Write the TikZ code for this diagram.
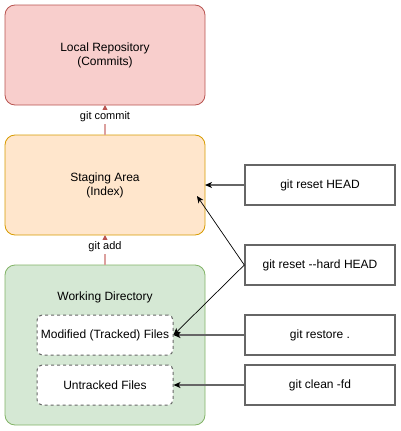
\documentclass[tikz,border=0pt]{standalone}
\usepackage{fontspec}
\setmainfont{Liberation Sans}
\usetikzlibrary{arrows.meta}
\definecolor{repofill}{HTML}{F8CECC}
\definecolor{repodraw}{HTML}{B85450}
\definecolor{stagefill}{HTML}{FFE6CC}
\definecolor{stagedraw}{HTML}{D79B00}
\definecolor{workfill}{HTML}{D5E8D4}
\definecolor{workdraw}{HTML}{82B366}
\definecolor{cmdgray}{HTML}{666666}
\definecolor{upline}{HTML}{DCA09E}
\tikzset{
  txt/.style={font=\fontsize{12}{14}\selectfont, align=center},
  area/.style={rounded corners=10pt, line width=0.8pt},
  filebox/.style={draw=cmdgray, dashed, line width=1pt, fill=white, rounded corners=5pt, minimum width=136pt, minimum height=40pt, txt},
  cmdbox/.style={draw=cmdgray, line width=1.4pt, fill=white, minimum width=150pt, minimum height=40pt, txt},
  uparrow/.style={draw=upline, line width=1.2pt, -{Triangle[length=7pt,width=7pt,fill=repodraw,color=repodraw]}},
  uplabel/.style={fill=white, inner sep=2pt, font=\fontsize{11}{13}\selectfont},
  grayarrow/.style={draw=cmdgray, line width=1.4pt, -{Stealth[length=7pt,width=6pt,inset=2pt,color=black]}},
  thinarrow/.style={draw=black, line width=0.7pt, -{Stealth[length=7pt,width=6pt,inset=2pt]}}
}
\begin{document}
\begin{tikzpicture}[x=1pt,y=-1pt]
\useasboundingbox (0,0) rectangle (401,431);
% areas
\draw[area, fill=repofill, draw=repodraw] (5,5) rectangle (205,105);
\node[txt] (repo) at (105,55) {Local Repository\\(Commits)};
\coordinate (repob) at (105,105);
\draw[area, fill=stagefill, draw=stagedraw] (5,135) rectangle (205,235);
\node[txt] (stage) at (105,185) {Staging Area\\(Index)};
\coordinate (staget) at (105,135);
\coordinate (stageb) at (105,235);
\coordinate (stager) at (205,185);
\coordinate (stagein) at (197,196);
\draw[area, fill=workfill, draw=workdraw] (5,265) rectangle (205,425);
\node[txt] (work) at (105,297) {Working Directory};
\coordinate (workt) at (105,265);
% file boxes
\node[filebox] (mod) at (105,335) {Modified (Tracked) Files};
\node[filebox] (untr) at (105,385) {Untracked Files};
% command boxes
\node[cmdbox] (reset) at (320,185) {git reset HEAD};
\node[cmdbox] (hard) at (320,265) {git reset {-}{-}hard HEAD};
\node[cmdbox] (restore) at (320,335) {git restore .};
\node[cmdbox] (clean) at (320,385) {git clean -fd};
% vertical arrows
\draw[uparrow] (staget) -- (repob) node[uplabel, pos=0.6] (lc) {git commit};
\draw[uparrow] (workt) -- (stageb) node[uplabel, pos=0.6] (la) {git add};
% command arrows
\draw[grayarrow] (reset.west) -- (stager);
\draw[thinarrow] (hard.west) -- (stagein);
\draw[thinarrow] (hard.west) -- (mod.east);
\draw[grayarrow] (restore.west) -- (mod.east);
\draw[grayarrow] (clean.west) -- (untr.east);
\end{tikzpicture}
\end{document}
